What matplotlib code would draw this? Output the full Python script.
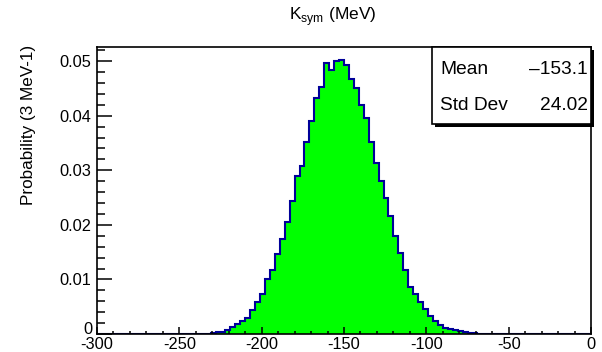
import numpy as np
import matplotlib
matplotlib.use('Agg')
import matplotlib.pyplot as plt
from matplotlib.patches import Rectangle
from matplotlib.ticker import MultipleLocator, FuncFormatter

plt.rcParams['font.family'] = ['Liberation Sans', 'DejaVu Sans']
plt.rcParams['mathtext.fontset'] = 'custom'
plt.rcParams['mathtext.rm'] = 'Liberation Sans'
plt.rcParams['axes.unicode_minus'] = False

# K_sym posterior, 3 MeV bins on [-300, 0]
x_min, x_max = -300, 0
bin_width = 3
first_bin = -231          # lower edge of the first non-empty bin
probs = [0.0002, 0.0003, 0.0003, 0.0007, 0.0012, 0.0018, 0.0023, 0.0029,
         0.0044, 0.0058, 0.0073, 0.0101, 0.0117, 0.0146, 0.0175, 0.0205,
         0.0243, 0.0290, 0.0308, 0.0351, 0.0390, 0.0433, 0.0452, 0.0496,
         0.0484, 0.0500, 0.0502, 0.0493, 0.0467, 0.0451, 0.0420, 0.0396,
         0.0351, 0.0313, 0.0281, 0.0250, 0.0217, 0.0179, 0.0149, 0.0117,
         0.0087, 0.0073, 0.0058, 0.0045, 0.0033, 0.0024, 0.0017, 0.0011,
         0.0009, 0.0007, 0.0005, 0.0003, 0.0002, 0.0002]
stat_names = ['Mean', 'Std Dev']
stat_values = ['-153.1', '24.02']

edges = np.arange(x_min, x_max + bin_width, bin_width)
counts = np.zeros(len(edges) - 1)
i0 = (first_bin - x_min) // bin_width
counts[i0:i0 + len(probs)] = probs

W, H = 602, 352
fig = plt.figure(figsize=(W / 100, H / 100), dpi=100)
ax = fig.add_axes([97 / W, 1 - 334 / H, (591 - 97) / W, (334 - 47) / H])

ax.stairs(counts, edges, fill=True, color='#00ff00')
ax.stairs(counts, edges, color='#000099', lw=1.5)

ax.set_xlim(x_min, x_max)
ax.set_ylim(0, 0.0526)
ax.xaxis.set_major_locator(MultipleLocator(50))
ax.xaxis.set_minor_locator(MultipleLocator(10))
ax.yaxis.set_major_locator(MultipleLocator(0.01))
ax.yaxis.set_minor_locator(MultipleLocator(0.002))
# the y "0" is drawn separately, a little raised, so it clears "-300"
ax.yaxis.set_major_formatter(FuncFormatter(lambda v, p: '' if abs(v) < 1e-9 else '%.2f' % v))

ax.tick_params(which='both', direction='in', top=False, right=False, width=1.1, labelsize=11.8)
ax.tick_params(axis='x', which='major', length=5, pad=2)
ax.tick_params(axis='x', which='minor', length=2.5)
ax.tick_params(axis='y', which='major', length=10.5, pad=4)
ax.tick_params(axis='y', which='minor', length=5.5)
for sp in ax.spines.values():
    sp.set_linewidth(1.2)

fig.text(92 / W, 1 - 330 / H, '0', ha='right', va='center', fontsize=11.8)

fig.text(333 / W, 1 - 17 / H, r'K$_{\mathrm{sym}}$ (MeV)', ha='center', va='center', fontsize=12.5)
fig.text(29 / W, 1 - 45 / H, 'Probability (3 MeV-1)', rotation=90, ha='center', va='top', fontsize=12.3)

# stats box with drop shadow
bx0, bx1, by0, by1 = 432, 591, 47, 124
fig.add_artist(Rectangle(((bx0 + 3) / W, 1 - (by1 + 3) / H), (bx1 - bx0) / W, (by1 - by0) / H,
                         transform=fig.transFigure, facecolor='black', edgecolor='none'))
fig.add_artist(Rectangle((bx0 / W, 1 - by1 / H), (bx1 - bx0) / W, (by1 - by0) / H,
                         transform=fig.transFigure, facecolor='white', edgecolor='black', lw=1.2))
for k, (name, val) in enumerate(zip(stat_names, stat_values)):
    yy = 1 - (69 + 36 * k) / H
    fig.text(440 / W, yy, name, ha='left', va='center', fontsize=13.8)
    fig.text(588 / W, yy, val.replace('-', '\u2013'), ha='right', va='center', fontsize=13.8)

fig.savefig('out.png', dpi=100)
